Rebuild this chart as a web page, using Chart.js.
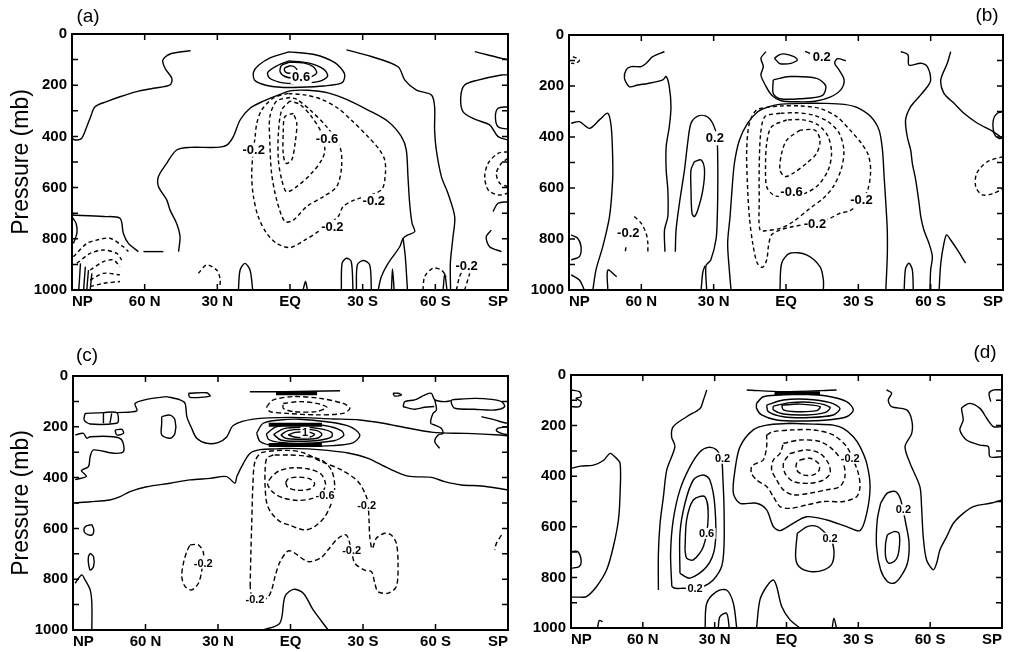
<!DOCTYPE html>
<html><head><meta charset="utf-8">
<script src="https://cdn.jsdelivr.net/npm/chart.js@4.4.1/dist/chart.umd.min.js"></script>
<style>
html,body{margin:0;padding:0;background:#fff;width:1010px;height:652px;overflow:hidden}
.p{position:absolute}
</style></head><body>
<div class="p" style="left:0;top:0;width:520px;height:320px"><canvas id="ca"></canvas></div>
<div class="p" style="left:520px;top:0;width:490px;height:320px"><canvas id="cb"></canvas></div>
<div class="p" style="left:0;top:320px;width:520px;height:332px"><canvas id="cc"></canvas></div>
<div class="p" style="left:520px;top:320px;width:490px;height:332px"><canvas id="cd"></canvas></div>
<script>
// ---------- axes ----------
const LAT_TICKS = [-90,-60,-30,0,30,60,90];
const LAT_LABELS = ['SP','60 S','30 S','EQ','30 N','60 N','NP'];
const P_TICKS = [0,200,400,600,800,1000];
const P_MINOR = [100,200,300,400,500,600,700,800,900];
const Y_TITLE = 'Pressure (mb)';
const PANEL_NAMES = ['(a)','(b)','(c)','(d)'];

// ---------- panel (a): [latitude, pressure] ----------
const A_solid = [
 [[41,65],[49.5,78],[52.5,102],[51.6,134],[48.8,173],[49.5,199],[56.4,212],[63.3,225],[70.2,245],[75.7,264],[80.5,284],[82.3,323],[83.9,362],[86,407],[88.7,414],[90,407]],
 [[46,850],[45.4,792],[46.8,740],[49.5,688],[50.9,648],[54.3,596],[54.3,557],[50.9,505],[46.8,453],[41.3,443],[30.3,443],[26.1,434],[23.4,401],[20.6,336],[16.5,290],[11,262],[4.1,236],[0,222],[-7.5,220],[-15.7,230],[-24,258],[-32.2,297],[-40.5,342],[-46,401],[-48,453],[-48.7,557],[-49.4,661],[-50.4,740],[-51.5,772],[-48.7,785],[-46.7,798],[-45.3,831],[-40.5,896],[-37.7,948],[-36.4,1000]],
 [[-46.7,798],[-47.6,870],[-48.5,1000]],
 [[-23.3,62],[-33.6,88],[-44.6,128],[-47.4,180],[-52.2,219],[-58.4,238],[-59.7,284],[-59.7,375],[-60.4,453],[-62.5,557],[-65.2,622],[-68,714],[-67.3,792],[-66.2,896],[-66.3,1000]],
 [[-76.3,69],[-81.8,82],[-87.3,95],[-90,100]],
 [[-90,160],[-87.3,160],[-77.6,180],[-72.1,199],[-70.5,245],[-71.4,303],[-76.3,333],[-82.4,355],[-85.9,401],[-90,414]],
 [[-90,284],[-85.9,290],[-84.8,323],[-85.9,362],[-90,372]],
 [[-90,655],[-85.9,661],[-83.8,694]],
 [[-83.1,766],[-81,792],[-82.4,831],[-87.3,850]],
 [[-21.2,1000],[-21.5,896],[-23.3,876],[-25.3,889],[-26,1000]],
 [[-27.4,1000],[-27.8,902],[-30.2,885],[-32.9,902],[-33.6,1000]],
 [[-41.9,1000],[-42.3,918],[-43,1000]],
 [[21.3,1000],[20.6,922],[18.6,896],[16.5,922],[15.4,1000]],
 [[-5.4,1000],[-6.4,967],[-7.2,1000]],
 [[-63.2,1000],[-63.9,935],[-64.8,1000]],
 [[60.5,850],[52.3,850]],
 [[90,707],[77,713],[70.2,720],[68.8,779],[66.7,818],[62.6,850]],
 [[90,714],[88.3,740],[88,779],[89.4,818]],
 [[86.5,896],[87.2,1000]],[[84.5,909],[85.2,1000]],[[83.2,922],[83.9,1000]],[[81.8,935],[82.5,1000]],
 [[0.5,70],[-10,80],[-18.5,112],[-22.5,155],[-21.5,190],[-14,203],[-4,208],[4,208],[10,200],[14.5,182],[15.1,150],[13,122],[8,92],[0.5,70]],
 [[0.5,105],[-7.5,113],[-14,138],[-15.5,165],[-12,185],[-4.5,192],[1,193],[4.5,188],[8.5,172],[9.2,150],[5.5,125],[0.5,105]],
 [[0,110],[3.4,122],[4.1,147],[2.1,166],[-1.4,172],[-8.3,168],[-11,152],[-9.6,128],[-5.5,113],[0,110]],
 [[0,124],[2.3,134],[1.7,150],[-0.7,152],[-2.8,141],[-1.4,126],[0,124]]
];
const A_dashed = [
 [[0.8,232],[6.9,250],[11.7,297],[13.7,349],[14.4,401],[15.4,479],[15.8,557],[15.1,635],[13.1,714],[9.6,779],[5.5,818],[0,834],[-6.1,805],[-11.6,772],[-19.8,714],[-21.9,675],[-26.7,648],[-37.7,609],[-39.4,544],[-39.1,492],[-37,453],[-32.2,401],[-25.3,336],[-19.8,290],[-13,255],[-6.1,238],[0.8,232]],
 [[0,248],[5.5,262],[8.3,323],[8.3,427],[7.6,544],[5.5,648],[2.1,733],[-1.4,727],[-6.9,674],[-13.8,635],[-19.3,596],[-21.3,518],[-20.6,440],[-15.1,362],[-8.3,297],[-2.8,255],[0,248]],
 [[0,262],[3.4,297],[4.8,388],[4.8,492],[3.4,570],[1.4,616],[-2.8,596],[-8.9,544],[-13.1,492],[-14.4,453],[-13.1,388],[-8.9,323],[-4.1,275],[0,262]],
 [[-1.4,310],[2.1,323],[2.8,388],[2.8,466],[1.7,505],[-0.7,492],[-2.1,427],[-2.8,349],[-1.4,310]],
 [[-90,460],[-85.9,466],[-81.8,505],[-80.4,557],[-81.8,609],[-85.9,629],[-90,622]],
 [[-90,486],[-87.3,505],[-85.2,544],[-86.6,583],[-90,596]],
 [[37.8,935],[34.4,902],[30.3,922],[28.9,954],[28.9,987]],
 [[-54.9,1000],[-55.6,948],[-59,915],[-62.5,922],[-64.6,948]],
 [[-68.7,1000],[-70,948],[-71.4,922]],[[-72.1,1000],[-74.2,935]],
 [[89.4,870],[83.9,818],[79.8,805],[74.3,798],[68.8,831],[66.7,850]],
 [[88,896],[82.5,857],[77,844],[71.5,857],[69.5,883]],
 [[82.5,922],[77,889],[72.9,883],[70.2,909]],
 [[82.5,961],[77,935],[70.2,941]],
 [[82.5,987],[77,974],[70.2,967]]
];
const A_labels = [['0.6',-4.6,168],['-0.6',-15.3,408],['-0.2',15,452],['-0.2',-34.6,652],['-0.2',-17.5,753],['-0.2',-72.9,905]];

// ---------- panel (b) ----------
const B_solid = [
 [[89.1,346],[85.7,340],[81.5,366],[77.4,333],[73.9,307],[72.5,359],[71.9,477],[71.9,569],[73.2,712],[76,830],[78.8,921],[80.1,1000]],
 [[89.1,784],[86.4,797],[85,830],[85.7,869],[89.1,882]],
 [[89.1,941],[85.7,961],[83.6,1000]],
 [[50.4,65],[55.3,85],[58,111],[60.1,124],[64.2,124],[66.3,137],[67,170],[64.9,203],[61.5,196],[57.3,190],[51.1,176],[49.7,163],[48.4,203],[47.7,281],[48.4,359],[49.7,438],[49.7,529],[49,608],[49,712],[50.4,765],[50.2,850]],
 [[45.9,850],[45.6,765],[44.2,660],[42.1,529],[40.8,425],[39.4,346],[36.6,318],[33.2,318],[30.4,346],[28.7,399],[28.3,503],[28.3,608],[28.5,712],[29,800],[31.2,882],[33.2,905],[32.9,1000]],
 [[38,497],[39.4,529],[39.4,608],[39,699],[38,712],[36.6,686],[34.5,608],[33.8,529],[35.2,490],[38,497]],
 [[35.2,1000],[34.5,930],[33.6,905]],
 [[73.9,1000],[73.9,922],[70.2,948]],
 [[22.8,1000],[23.5,922],[24.2,817],[23.2,712],[22.4,608],[21.4,503],[19.3,412],[15.9,346],[11.7,301],[6.9,281],[2.8,272],[0,270],[-7.5,268],[-15.8,268],[-24.1,272],[-29.6,285],[-35.1,320],[-38.6,373],[-40,451],[-40.7,556],[-41.4,660],[-42,765],[-42,869],[-41.4,1000]],
 [[8.3,65],[10.4,91],[9.4,124],[10.4,157],[8.6,196],[6,235],[2,258],[-5,262],[-12,260],[-18,245],[-22.7,215],[-24.1,176],[-22,137],[-20.2,111],[-21.3,93],[-24.8,101]],
 [[-7.9,64],[-10,72]],
 [[4.8,91],[2.8,78],[0.8,74],[-3.3,85],[-4.7,98],[-2,111],[0.8,114],[2.8,111],[4.8,91]],
 [[5.3,176],[-1.6,163],[-12.7,170],[-16.5,200],[-15,238],[-6,250],[2.5,250],[5.3,229],[5.3,176]],
 [[-47.6,65],[-50.6,78],[-51,118],[-55.9,111],[-58.6,124],[-60,176],[-58.6,203],[-55.2,242],[-51.7,281],[-49.6,333],[-50.3,399],[-51.7,451],[-52.4,503],[-53.8,569],[-55.2,660],[-55.9,712],[-57.2,765],[-59.3,817],[-60.7,869],[-60,922],[-59.7,1000]],
 [[-68.3,65],[-66.9,111],[-64.2,176],[-65.5,229],[-69.7,268],[-73.8,307],[-79.4,346],[-84.9,373],[-89,399],[-90,405]],
 [[-63.5,1000],[-64.2,895],[-65.5,817],[-66.6,784],[-68.3,804],[-71.1,843],[-74.5,895]],
 [[-49,1000],[-49.6,915],[-51,895],[-52.4,921],[-52.8,1000]],
 [[-90,301],[-87.6,307],[-86,333],[-86.3,386],[-88.3,405],[-90,405]],
 [[2.5,1000],[1.8,895],[-1.6,856],[-8.5,862],[-14.1,908],[-15.5,960],[-15.5,1000]]
];
const B_dashed = [
 [[88.4,85],[85.7,98],[87.1,111],[89.1,111]],
 [[62.9,712],[60.1,738],[58,778],[57.3,817],[57.3,850]],
 [[66.6,848],[66.4,832]],
 [[-90,477],[-83.5,497],[-79.1,542],[-78.7,595],[-81.4,627],[-85.6,623],[-89,608],[-90,601]],
 [[6.7,282],[12.2,294],[15.2,346],[16.3,451],[16,582],[15.2,712],[13.8,817],[11.9,895],[9.7,911],[8,882],[7.3,830],[6,784],[2.5,765],[-3,751],[-6.5,745],[-12.5,735],[-18.2,719],[-22.4,699],[-26.5,689],[-31.3,650],[-34.1,601],[-35.1,529],[-34.1,470],[-31.3,425],[-26.5,372],[-21,320],[-14.1,288],[-5.8,278],[1.1,278],[6.7,282]],
 [[2.5,307],[8.7,320],[10.5,386],[11.1,516],[11.1,647],[10.8,765],[8,767],[2.5,758],[-3,732],[-9.9,680],[-15.5,640],[-19.6,595],[-23,523],[-24,451],[-22.1,386],[-17.5,340],[-11.3,314],[-4.4,305],[2.5,307]],
 [[-0.3,333],[6,360],[8,425],[8.5,516],[8,595],[5.3,627],[1.8,634],[-2.3,630],[-7.9,621],[-13.4,588],[-17.5,529],[-18.9,464],[-17.5,399],[-13.4,353],[-7.2,333],[-0.3,333]],
 [[-5.8,373],[-0.3,412],[1.8,464],[2.5,529],[0.4,555],[-3,542],[-8.5,503],[-12.7,464],[-14.1,412],[-12,373],[-5.8,373]]
];
const B_labels = [['0.2',29.5,405],['0.2',-14.8,85],['-0.2',-12,739],['-0.2',-31.3,647],['-0.6',-2.3,616],['-0.2',65.4,778]];

// ---------- panel (c) ----------
const C_solid = [
 [[89.1,499],[82.9,495],[74.7,488],[70.5,475],[66.4,455],[59.5,436],[49.8,422],[41.5,409],[33.3,403],[26.4,396],[23,422],[22.2,396],[19.5,344],[16.7,304],[12.6,290],[5.7,287],[1,285],[-7.3,287],[-15.5,293],[-23.8,303],[-32.1,324],[-40.4,363],[-48.6,394],[-58.3,399],[-63.8,416],[-70.7,429],[-79,433],[-85.9,442],[-90,449]],
 [[51.2,81],[45.7,94],[43.6,108],[42.9,160],[40.9,206],[38.8,245],[34.7,265],[30,262],[26.4,240],[23.7,195],[15.4,170],[0.2,163],[-17.7,169],[-28.7,173],[-38.4,186],[-45.3,199],[-59,222],[-72.9,226],[-86.6,232],[-90,235]],
 [[85,147],[77.4,144],[71.9,144],[71.2,173],[71.9,186],[82.9,189],[85.4,173],[85,147]],
 [[77.4,144],[77.4,186]],[[74,147],[74.7,186]],
 [[71.9,144],[63.6,137],[64.3,108],[59.5,92],[51.2,81]],
 [[42.2,68],[34.7,66],[33.3,79],[41.6,84],[42.2,68]],
 [[53.3,160],[49.8,154],[47.8,173],[47.8,226],[49.8,245],[53.3,232],[53.3,186],[53.3,160]],
 [[72.6,213],[69.8,210],[69.1,226],[71.9,232],[72.6,213]],
 [[89.1,232],[85.7,226],[84.3,245],[82.9,239],[73.3,239],[69.8,252],[69.1,298],[73.3,304],[81.5,291],[82.9,317],[83.6,357],[86.5,372],[84.5,395],[89.1,408]],
 [[82.2,585],[84.8,592],[85.5,606],[84.8,620],[82.2,626],[81.4,606],[82.2,585]],
 [[82.9,698],[81.5,711],[81.5,750],[82.9,764],[83.6,737],[83.6,711],[82.9,698]],
 [[89.1,816],[86.4,783],[85,803],[82.9,842],[82.2,895],[82.2,1000]],
 [[14,225],[11.3,186],[4.4,173],[-3.9,170],[-15,180],[-24.6,199],[-28.7,232],[-26,262],[-17.7,274],[-3.9,277],[7.1,274],[12.6,258],[14,225]],
 [[10,228],[6,200],[-3,190],[-14,195],[-21,215],[-22,235],[-18,255],[-6,265],[4,262],[9,250],[10,228]],
 [[7,230],[3,208],[-4,202],[-12,207],[-17,222],[-17,240],[-12,253],[-3,257],[4,252],[7,230]],
 [[4,232],[1,215],[-5,210],[-11,215],[-13,230],[-11,245],[-4,249],[2,245],[4,232]],
 [[1,232],[-2,222],[-7,220],[-10,230],[-8,240],[-2,241],[1,232]],
 [[16.8,62],[3,62],[-20.5,58]],
 [[11.3,1000],[4.4,973],[2.3,868],[-1.2,840],[-5.3,855],[-9.4,921],[-15.6,1000]],
 [[-66.6,94],[-76.2,88],[-83.1,92],[-87.3,101],[-88.6,121],[-84.5,134],[-76.2,131],[-68,127],[-66.6,108],[-66.6,94]],
 [[-46.6,121],[-47.3,101],[-51.4,94],[-55.5,75],[-58.3,68],[-59.7,94],[-63.8,101],[-66.6,97]],
 [[-59.7,94],[-60.4,134],[-59,147],[-58,186],[-59.7,193],[-62.4,206],[-63.1,226],[-61.1,232],[-59.7,258],[-61.7,285]],
 [[-46.6,121],[-51.4,131],[-55.5,123],[-59.5,120]],
 [[-42.4,68],[-44.5,68],[-45.9,75],[-43.1,79],[-42.4,68]],
 [[-79,160],[-84.5,173],[-88.6,184],[-90,186]],
 [[-90,200],[-85.9,205],[-85.2,215],[-87.3,226],[-90,232]]
];
const C_bands = [
 [[6,68],[-11,68]],
 [[9,192],[-13,192]],
 [[9,272],[-13,272]]
];
const C_dashed = [
 [[9.9,121],[7.1,94],[-1.2,81],[-12.2,88],[-21.8,108],[-24.6,127],[-21.8,147],[-10.8,153],[1.6,147],[8.5,140],[9.9,121]],
 [[3,108],[-3.9,101],[-10.8,108],[-15,123],[-10.8,140],[-1.2,140],[3,127],[3,108]],
 [[16.7,829],[16.4,698],[16,567],[15.6,436],[14.7,337],[11.9,302],[0.5,293],[-5.9,304],[-12.8,337],[-21.1,370],[-28,416],[-31.4,475],[-32.1,508],[-32.5,567],[-32.8,632],[-33.8,680],[-35.5,639],[-39,619],[-41.7,626],[-43.8,659],[-44.5,737],[-43.8,829],[-40.4,855],[-36.2,849],[-34.9,816],[-33.5,770],[-30.7,764],[-26.6,737],[-25.2,685],[-23.1,626],[-19.7,639],[-15.5,685],[-12.8,714],[-7.3,731],[0.5,688],[4.3,731],[6.4,790],[7.8,842],[9.8,875],[15.6,876],[16.7,829]],
 [[7.1,311],[9.8,324],[10.5,370],[10.5,436],[9.8,501],[7.8,541],[4.3,573],[0.5,587],[-5.9,606],[-10,593],[-14.2,554],[-16.9,501],[-18.3,436],[-16.9,370],[-12.8,331],[-5.9,315],[1,311],[7.1,311]],
 [[7.8,396],[9.5,425],[7,460],[3,480],[-3,490],[-9,482],[-13,460],[-14.5,425],[-12.5,385],[-7,365],[0,362],[5,375],[7.8,396]],
 [[2,420],[1,440],[-3,450],[-8,445],[-10,425],[-8,405],[-3,398],[1,405],[2,420]],
 [[41.6,665],[38.1,665],[36,698],[36.7,764],[38.1,816],[40.9,842],[43.6,829],[45,790],[44.3,737],[42.9,691],[41.6,665]],
 [[-87.3,626],[-85.2,659],[-84.5,685]]
];
const C_labels = [['1',-6,222],['-0.6',-14.3,470],['-0.2',-31.5,508],['-0.2',-25.3,686],['-0.2',14.7,878],['-0.2',36.1,737]];

// ---------- panel (d) ----------
const D_solid = [
 [[90,369],[86,360],[80.6,356],[76.5,338],[73.7,310],[71.5,325],[69.5,349],[69.5,467],[70.2,573],[72.3,678],[75.1,770],[79.3,836],[83.5,876],[86.2,878],[90,878]],
 [[90,59],[86.5,66],[85.8,86],[87.9,92],[85.8,105],[86.5,125],[90,125]],
 [[90,698],[87.2,698],[85.8,731],[86.5,757],[90,764]],
 [[78.9,1000],[78.2,970],[76.8,975]],
 [[33.3,59],[34.7,99],[36.1,132],[41.7,165],[47.3,204],[48,244],[46.6,283],[50,375],[51.4,481],[52.8,586],[53.5,705],[53.5,850]],
 [[47.9,836],[48.4,705],[47.3,573],[44.5,454],[40.3,362],[36.1,303],[32.6,286],[29.2,296],[27.1,336],[26.6,402],[26.1,520],[26.1,678],[27.1,757],[30.6,810],[34.7,836],[38.2,843],[43.1,843],[46.6,843],[47.9,836]],
 [[44.5,784],[44.5,626],[42.4,507],[38.9,415],[34.7,395],[32,415],[29.9,520],[29.9,678],[33.3,757],[40.3,803],[44.5,784]],
 [[42.4,691],[41.7,573],[38.9,494],[34.1,481],[32.7,560],[34.7,678],[38.9,731],[41.7,724],[42.4,691]],
 [[34,1000],[33.3,902],[29.2,856],[25,850],[22.2,902],[20.8,1000]],
 [[28.5,1000],[27.8,955],[25,942],[23.9,1000]],
 [[12.5,1000],[11.1,889],[8.3,836],[5.5,810],[4.1,836],[2,915],[-1.5,968],[-5.6,1000]],
 [[-19.1,1000],[-19.8,961],[-20.9,1000]],
 [[-1.5,191],[8.3,198],[13.9,217],[19.4,283],[21.5,375],[22.2,467],[19.4,507],[12.5,507],[8.3,533],[5.5,599],[2.7,615],[-2.8,586],[-8.4,560],[-16.8,573],[-25.1,599],[-30.7,615],[-33.5,547],[-34.9,441],[-33.5,349],[-30.7,283],[-27.9,244],[-23.7,211],[-19.5,198],[-11.2,194],[-1.5,191]],
 [[-4.5,626],[-8.7,599],[-12.9,599],[-16.4,626],[-18.4,645],[-19.8,691],[-19.1,744],[-15.7,770],[-10.1,777],[-5.2,757],[-3.8,718],[-4.5,626]],
 [[-39.3,507],[-42.1,467],[-45.6,461],[-47.7,494],[-49.8,586],[-51.2,665],[-50.5,744],[-47.7,797],[-44.9,823],[-42.1,816],[-39.3,770],[-37.6,678],[-37.9,573],[-39.3,507]],
 [[-42.1,632],[-44.9,619],[-47,626],[-47,691],[-45.6,731],[-42.8,744],[-41.4,718],[-41.4,665],[-42.1,632]],
 [[-41.8,59],[-43.9,72],[-42.5,99],[-43.9,125],[-50.2,138],[-52.3,178],[-52.3,231],[-49.5,283],[-51.6,349],[-55.7,441],[-56.4,520],[-57.1,639],[-58.5,731],[-61.3,770],[-62.7,744],[-64.1,691],[-66.9,639],[-69.7,586],[-73.8,547],[-78,520],[-85,507],[-90,494]],
 [[-90,204],[-86.4,204],[-83.6,171],[-80.8,132],[-76.6,112],[-73.8,125],[-73.1,132],[-73.8,178],[-72.4,217],[-75.2,257],[-80.8,277],[-84.3,283],[-85,323],[-90,323]],
 [[-85.3,105],[-84.6,72],[-86.6,59],[-90,59]],
 [[12.5,112],[9.7,86],[2.7,79],[-5.6,75],[-16.8,83],[-25.1,105],[-27.9,138],[-25.1,165],[-16.8,178],[-5.6,182],[4.1,178],[10.4,158],[12.5,132],[12.5,112]],
 [[8.3,119],[1.3,99],[-8.4,96],[-18.2,109],[-22.3,132],[-19.5,158],[-9.8,168],[1.3,165],[7.6,145],[8.3,119]],
 [[5.5,123],[-1.5,109],[-11.2,109],[-18.2,128],[-16,149],[-8.4,158],[1.3,154],[5.5,138],[5.5,123]],
 [[2,119],[-5.6,115],[-14,125],[-12.6,141],[-4.2,145],[1.3,138],[2,119]],
 [[16.6,59],[1.3,66],[-20.9,59]]
];
const D_bands = [[[5,72],[-14,72]]];
const D_dashed = [
 [[8.3,237],[5.5,224],[-2.8,217],[-11.2,217],[-19.5,237],[-25.1,283],[-27.9,336],[-30,389],[-30.7,441],[-29.3,481],[-23.7,500],[-15.4,500],[-8.4,514],[-1.5,527],[2.7,520],[5.5,481],[8.3,441],[12.5,415],[14.6,389],[14.6,362],[12.5,349],[9.7,336],[8.3,283],[8.3,237]],
 [[1.3,270],[-5.6,257],[-14,263],[-19.5,296],[-23.7,349],[-24.4,402],[-22.3,441],[-16.8,454],[-9.8,467],[-2.8,474],[1.3,454],[4.1,415],[6.2,375],[5.5,336],[2.7,310],[1.3,270]],
 [[-1.5,310],[-8.4,296],[-14,310],[-17.5,349],[-18.2,389],[-15.4,415],[-9.8,428],[-2.8,421],[0.6,389],[1.3,349],[-1.5,310]],
 [[-5.6,336],[-9.8,329],[-13.3,349],[-13.7,375],[-11.2,395],[-7,395],[-4.2,375],[-4.2,349],[-5.6,336]]
];
const D_labels = [['0.2',26.7,329],['0.2',38.2,843],['0.6',33.4,626],['-0.2',-26.6,329],['0.2',-18.2,645],['0.2',-48.8,533]];

// ---------- drawing ----------
const FONT = "'Liberation Sans', Arial, Helvetica, sans-serif";

function ds(lines, dash, width) {
  return lines.map(pts => ({
    data: pts.map(([x, y]) => ({x, y})),
    showLine: true, pointRadius: 0, pointHoverRadius: 0,
    borderColor: '#000', borderWidth: width, borderDash: dash,
    tension: 0.3, fill: false
  }));
}

const decorPlugin = {
  id: 'decor',
  afterDatasetsDraw(chart, args, o) {
    const ctx = chart.ctx, xs = chart.scales.x, ys = chart.scales.y, ca = chart.chartArea;
    ctx.save();
    // contour labels
    ctx.font = o.labelFont;
    ctx.textAlign = 'center'; ctx.textBaseline = 'middle';
    o.labels.forEach(([t, lat, p]) => {
      const px = xs.getPixelForValue(lat), py = ys.getPixelForValue(p);
      const w = ctx.measureText(t).width;
      ctx.fillStyle = '#fff';
      ctx.fillRect(px - w / 2 - 1.5, py - o.labelH / 2, w + 3, o.labelH);
      ctx.fillStyle = '#000';
      ctx.fillText(t, px, py + 0.5);
    });
    // frame
    ctx.strokeStyle = '#000'; ctx.lineWidth = 2;
    ctx.strokeRect(ca.left, ca.top, ca.right - ca.left, ca.bottom - ca.top);
    ctx.lineWidth = 1.5;
    ctx.beginPath();
    LAT_TICKS.slice(1, -1).forEach(v => {
      const px = xs.getPixelForValue(v);
      ctx.moveTo(px, ca.bottom); ctx.lineTo(px, ca.bottom - 6);
      ctx.moveTo(px, ca.top); ctx.lineTo(px, ca.top + 6);
    });
    P_MINOR.forEach(v => {
      const py = ys.getPixelForValue(v);
      ctx.moveTo(ca.left, py); ctx.lineTo(ca.left + 6, py);
      ctx.moveTo(ca.right, py); ctx.lineTo(ca.right - 6, py);
    });
    ctx.stroke();
    // panel letter
    ctx.font = '19px ' + FONT;
    ctx.textAlign = 'center'; ctx.textBaseline = 'middle';
    ctx.fillText(o.name, o.nx, o.ny);
    ctx.restore();
  }
};

function makeChart(id, solid, dashed, bands, labels, cfg) {
  const datasets = [].concat(ds(solid, [], 1.4), ds(dashed, cfg.dash, 1.4), ds(bands, [], 4));
  return new Chart(document.getElementById(id), {
    type: 'scatter',
    data: { datasets },
    options: {
      responsive: false, animation: false, events: [],
      layout: { padding: { left: 0, top: cfg.top, right: cfg.right, bottom: 0 } },
      plugins: {
        legend: { display: false }, tooltip: { enabled: false },
        decor: { labels, labelFont: cfg.labelFont, labelH: cfg.labelH, name: cfg.name, nx: cfg.nx, ny: cfg.ny }
      },
      scales: {
        x: {
          type: 'linear', min: -90, max: 90, reverse: true,
          afterBuildTicks: s => { s.ticks = LAT_TICKS.map(v => ({ value: v })); },
          afterFit: s => { s.height = cfg.xh; s.paddingLeft = 0; s.paddingRight = 0; },
          grid: { display: false, drawTicks: false }, border: { display: false },
          ticks: {
            align: 'inner', padding: 3, color: '#000', maxRotation: 0, autoSkip: false,
            font: { family: FONT, size: 15, weight: 'bold' },
            callback: v => LAT_LABELS[LAT_TICKS.indexOf(v)]
          }
        },
        y: {
          type: 'linear', min: 0, max: 1000, reverse: true,
          afterBuildTicks: s => { s.ticks = P_TICKS.map(v => ({ value: v })); },
          afterFit: s => { s.width = cfg.yw; s.paddingTop = 0; s.paddingBottom = 0; },
          grid: { display: false, drawTicks: false }, border: { display: false },
          title: { display: cfg.title, text: Y_TITLE, color: '#000', font: { family: FONT, size: 23 }, padding: { top: 8, bottom: 0 } },
          ticks: { padding: 5, color: '#000', font: { family: FONT, size: 15, weight: 'bold' }, callback: v => String(v) }
        }
      }
    },
    plugins: [decorPlugin]
  });
}

function sizeCanvas(id, w, h) { const c = document.getElementById(id); c.width = w; c.height = h; c.style.width = w + 'px'; c.style.height = h + 'px'; }
sizeCanvas('ca', 520, 320); sizeCanvas('cb', 490, 320); sizeCanvas('cc', 520, 332); sizeCanvas('cd', 490, 332);

makeChart('ca', A_solid, A_dashed, [], A_labels,
  { top: 34, right: 12, yw: 72, xh: 30, title: true, dash: [4, 3], labelFont: 'bold 13px ' + FONT, labelH: 14, name: PANEL_NAMES[0], nx: 88, ny: 17 });
makeChart('cb', B_solid, B_dashed, [], B_labels,
  { top: 35, right: 7, yw: 49, xh: 30, title: false, dash: [4, 3], labelFont: 'bold 13px ' + FONT, labelH: 14, name: PANEL_NAMES[1], nx: 467, ny: 16 });
makeChart('cc', C_solid, C_dashed, C_bands, C_labels,
  { top: 56, right: 12, yw: 73, xh: 22, title: true, dash: [5, 3], labelFont: 'bold 11px ' + FONT, labelH: 11, name: PANEL_NAMES[2], nx: 87, ny: 36 });
makeChart('cd', D_solid, D_dashed, D_bands, D_labels,
  { top: 55, right: 8, yw: 51, xh: 24, title: false, dash: [5, 3], labelFont: 'bold 11px ' + FONT, labelH: 11, name: PANEL_NAMES[3], nx: 465, ny: 33 });
</script>
</body></html>
